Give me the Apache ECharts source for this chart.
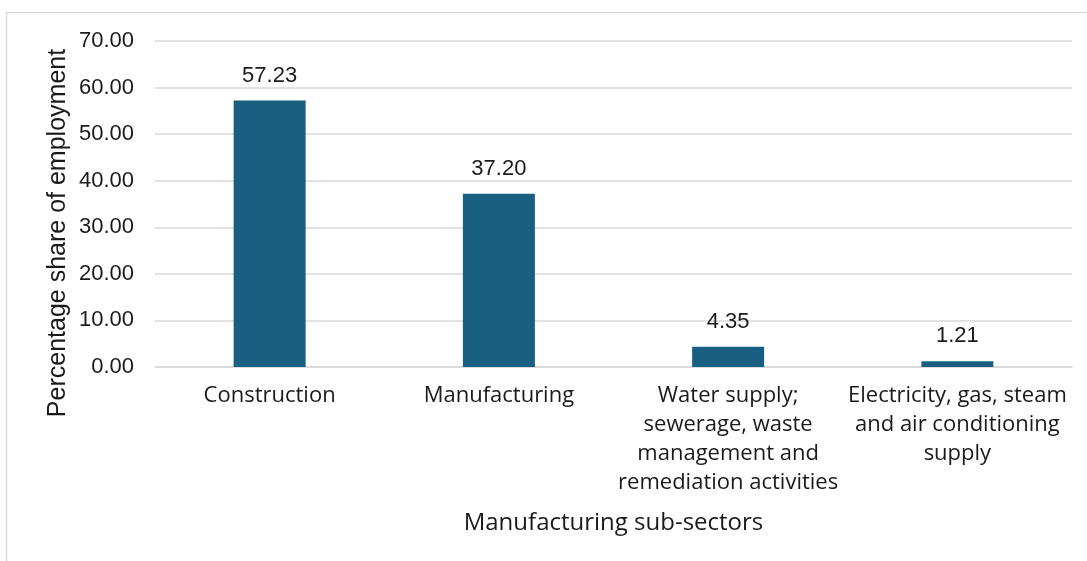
<!DOCTYPE html>
<html>
<head>
<meta charset="utf-8">
<script src="https://cdn.jsdelivr.net/npm/echarts@6/dist/echarts.min.js"></script>
<style>
  html, body { margin: 0; padding: 0; background: #ffffff; }
  #chart { width: 1087px; height: 561px; }
</style>
</head>
<body>
<div id="chart"></div>
<script>
// Employment share by manufacturing sub-sector
const categories = [
  'Construction',
  'Manufacturing',
  'Water supply;\nsewerage, waste\nmanagement and\nremediation activities',
  'Electricity, gas, steam\nand air conditioning\nsupply'
];
const shareValues = [57.23, 37.20, 4.35, 1.21];
const yTicks = { min: 0, max: 70, interval: 10 };

const SANS = '"Open Sans", "Noto Sans", sans-serif';
const ARIAL = '"Liberation Sans", Arial, sans-serif';
const TEXT = '#1a1a1a';

const chart = echarts.init(document.getElementById('chart'), null, { renderer: 'canvas' });

chart.setOption({
  animation: false,
  backgroundColor: '#ffffff',
  graphic: [
    {
      type: 'rect',
      shape: { x: 6.5, y: 12.5, width: 1200, height: 700 },
      style: { fill: 'none', stroke: '#d9d9d9', lineWidth: 1.5 },
      silent: true,
      z: -1
    },
    {
      type: 'text',
      x: 58,
      y: 233,
      rotation: Math.PI / 2,
      style: {
        text: 'Percentage share of employment',
        fontFamily: ARIAL,
        fontSize: 25,
        fill: TEXT,
        align: 'center',
        verticalAlign: 'middle'
      }
    }
  ],
  grid: { left: 155, right: 15, top: 41, bottom: 194, containLabel: false },
  xAxis: {
    type: 'category',
    data: categories,
    name: 'Manufacturing sub-sectors',
    nameLocation: 'middle',
    nameGap: 144,
    nameTextStyle: { fontFamily: SANS, fontSize: 24, color: TEXT },
    axisLine: { show: true, lineStyle: { color: '#d9d9d9', width: 1.5 } },
    axisTick: { show: false },
    axisLabel: {
      interval: 0,
      margin: 14,
      fontFamily: SANS,
      fontSize: 22,
      lineHeight: 29,
      color: TEXT,
      align: 'center'
    }
  },
  yAxis: {
    type: 'value',
    min: yTicks.min,
    max: yTicks.max,
    interval: yTicks.interval,
    axisLine: { show: false },
    axisTick: { show: false },
    splitLine: { lineStyle: { color: '#d9d9d9', width: 1.5 } },
    axisLabel: {
      margin: 21,
      fontFamily: ARIAL,
      fontSize: 22,
      color: TEXT,
      formatter: v => v.toFixed(2)
    }
  },
  series: [
    {
      type: 'bar',
      data: shareValues,
      barWidth: 72,
      itemStyle: { color: '#185f81' },
      label: {
        show: true,
        position: 'top',
        distance: 14,
        fontFamily: ARIAL,
        fontSize: 22,
        color: TEXT,
        formatter: p => p.value.toFixed(2)
      }
    }
  ]
});
</script>
</body>
</html>
